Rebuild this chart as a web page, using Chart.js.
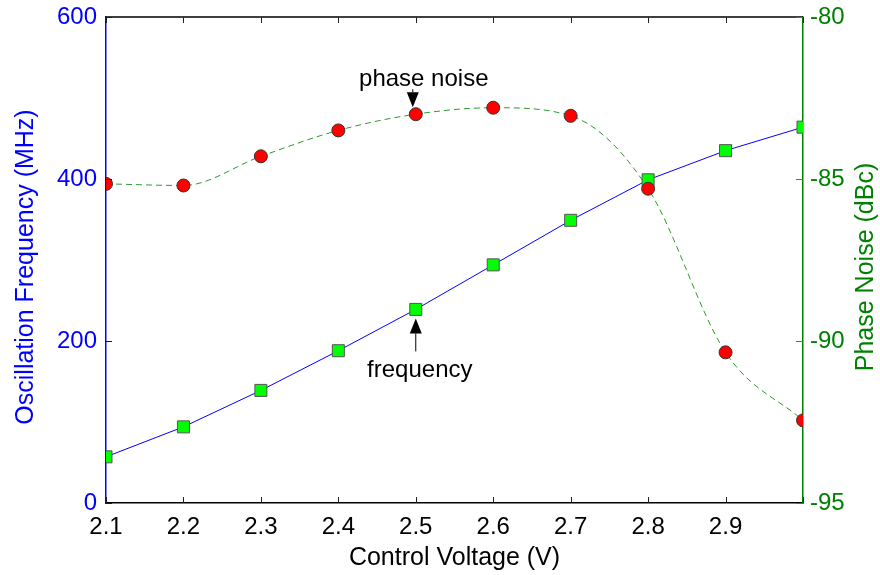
<!DOCTYPE html>
<html>
<head>
<meta charset="utf-8">
<script src="https://cdn.jsdelivr.net/npm/chart.js@4.4.0/dist/chart.umd.min.js"></script>
<style>
  html, body { margin: 0; padding: 0; background: #fff; }
  #wrap { width: 880px; height: 575px; }
</style>
</head>
<body>
<div id="wrap"><canvas id="vcoChart"></canvas></div>
<script>
// control voltage (V)
const voltage = [2.1, 2.2, 2.3, 2.4, 2.5, 2.6, 2.7, 2.8, 2.9, 3.0];
// oscillation frequency (MHz)
const frequency = [57, 94, 139, 188, 239, 294, 349, 399, 435, 464];
// phase noise (dBc)
const phaseNoise = [-85.15, -85.2, -84.3, -83.5, -83.0, -82.8, -83.05, -85.3, -90.35, -92.45];

const xTicks = [2.1, 2.2, 2.3, 2.4, 2.5, 2.6, 2.7, 2.8, 2.9, 3.0];
const xTickLabels = ["2.1", "2.2", "2.3", "2.4", "2.5", "2.6", "2.7", "2.8", "2.9", ""];
const freqTicks = [0, 200, 400, 600];
const noiseTicks = [-95, -90, -85, -80];

const FONT = "'Liberation Sans', Arial, Helvetica, sans-serif";
const BLUE = "#0000ff";
const GREEN = "#008000";

const freqPoints = voltage.map((v, i) => ({ x: v, y: frequency[i] }));
const noisePoints = voltage.map((v, i) => ({ x: v, y: phaseNoise[i] }));

function setTicks(values) {
    return function (scale) {
        scale.ticks = values.map(v => ({ value: v }));
    };
}

function fitWidth(w) {
    return function (scale) {
        scale.width = w;
        scale.paddingTop = 0;
        scale.paddingBottom = 0;
    };
}

// inward tick marks, top frame, arrows and axis titles
const decorPlugin = {
    id: "decor",
    afterDatasetsDraw(chart) {
        const ctx = chart.ctx;
        const area = chart.chartArea;
        const x = chart.scales.x;
        const y = chart.scales.y;
        const y2 = chart.scales.y2;

        ctx.save();
        // top frame
        ctx.strokeStyle = "#000";
        ctx.lineWidth = 1.5;
        ctx.beginPath();
        ctx.moveTo(area.left, area.top);
        ctx.lineTo(area.right, area.top);
        ctx.stroke();

        // x ticks (bottom and top)
        ctx.lineWidth = 1;
        ctx.strokeStyle = "#222";
        xTicks.forEach(v => {
            const px = Math.round(x.getPixelForValue(v)) + 0.5;
            ctx.beginPath();
            ctx.moveTo(px, area.bottom);
            ctx.lineTo(px, area.bottom - 6);
            ctx.moveTo(px, area.top);
            ctx.lineTo(px, area.top + 6);
            ctx.stroke();
        });
        // left ticks
        ctx.strokeStyle = BLUE;
        freqTicks.forEach(v => {
            const py = Math.round(y.getPixelForValue(v)) + 0.5;
            ctx.beginPath();
            ctx.moveTo(area.left, py);
            ctx.lineTo(area.left + 6, py);
            ctx.stroke();
        });
        // right ticks
        ctx.strokeStyle = "#2a7f7f";
        noiseTicks.forEach(v => {
            const py = Math.round(y2.getPixelForValue(v)) + 0.5;
            ctx.beginPath();
            ctx.moveTo(area.right, py);
            ctx.lineTo(area.right - 7, py);
            ctx.stroke();
        });

        // annotation arrows
        function arrow(px, tipY, dir, stem) {
            // dir = 1 points down, -1 points up
            const headLen = 15, headHalf = 6;
            ctx.fillStyle = "#000";
            ctx.strokeStyle = "#000";
            ctx.lineWidth = 1;
            ctx.beginPath();
            ctx.moveTo(px, tipY);
            ctx.lineTo(px - headHalf, tipY - dir * headLen);
            ctx.lineTo(px + headHalf, tipY - dir * headLen);
            ctx.closePath();
            ctx.fill();
            ctx.beginPath();
            ctx.moveTo(px, tipY - dir * headLen);
            ctx.lineTo(px, tipY - dir * (headLen + stem));
            ctx.stroke();
        }
        ctx.font = "24px " + FONT;
        ctx.textAlign = "center";
        ctx.textBaseline = "alphabetic";

        const nx = x.getPixelForValue(voltage[4]);
        const ny = y2.getPixelForValue(phaseNoise[4]);
        arrow(nx - 3, ny - 7, 1, 3);
        ctx.fillStyle = "#000";
        ctx.fillText("phase noise", nx + 8, ny - 28);

        const fx = x.getPixelForValue(voltage[4]);
        const fy = y.getPixelForValue(frequency[4]);
        arrow(fx, fy + 9, -1, 18);
        ctx.fillStyle = "#000";
        ctx.fillText("frequency", fx + 4, fy + 68);

        // axis titles
        ctx.font = "25px " + FONT;
        ctx.textBaseline = "middle";
        ctx.fillStyle = "#000";
        ctx.fillText("Control Voltage (V)", (area.left + area.right) / 2, chart.height - 17);

        const midY = (area.top + area.bottom) / 2 + 7;
        ctx.save();
        ctx.translate(26, midY);
        ctx.rotate(-Math.PI / 2);
        ctx.fillStyle = BLUE;
        ctx.fillText("Oscillation Frequency (MHz)", 0, 0);
        ctx.restore();

        ctx.save();
        ctx.translate(866, midY);
        ctx.rotate(-Math.PI / 2);
        ctx.fillStyle = GREEN;
        ctx.fillText("Phase Noise (dBc)", 0, 0);
        ctx.restore();

        ctx.restore();
    }
};

const ctx = document.getElementById("vcoChart").getContext("2d");
new Chart(ctx, {
    type: "line",
    data: {
        datasets: [
            {
                label: "phase noise",
                data: noisePoints,
                yAxisID: "y2",
                order: 0,
                borderColor: "#2e9a2e",
                borderWidth: 1,
                borderDash: [6, 4],
                cubicInterpolationMode: "monotone",
                pointStyle: "circle",
                pointRadius: 6.5,
                pointBackgroundColor: "#ff0000",
                pointBorderColor: "#333",
                pointBorderWidth: 1
            },
            {
                label: "frequency",
                data: freqPoints,
                yAxisID: "y",
                order: 1,
                borderColor: BLUE,
                borderWidth: 1,
                tension: 0,
                pointStyle: "rect",
                pointRadius: 8.5,
                pointBackgroundColor: "#00ff00",
                pointBorderColor: "#555",
                pointBorderWidth: 1
            }
        ]
    },
    options: {
        responsive: true,
        maintainAspectRatio: false,
        animation: false,
        layout: { padding: { top: 17, left: 0, right: 0, bottom: 0 } },
        plugins: {
            legend: { display: false },
            tooltip: { enabled: false }
        },
        scales: {
            x: {
                type: "linear",
                min: 2.1,
                max: 3.0,
                afterBuildTicks: setTicks(xTicks),
                afterFit: s => { s.height = 72; s.paddingLeft = 0; s.paddingRight = 0; },
                grid: { display: false, drawTicks: false },
                border: { display: true, color: "#000", width: 1.5 },
                ticks: {
                    padding: 10,
                    color: "#000",
                    font: { size: 24, family: FONT },
                    maxRotation: 0,
                    autoSkip: false,
                    callback: (v, i) => xTickLabels[i]
                }
            },
            y: {
                type: "linear",
                position: "left",
                min: 0,
                max: 600,
                afterBuildTicks: setTicks(freqTicks),
                afterFit: fitWidth(106),
                grid: { display: false, drawTicks: false },
                border: { display: true, color: BLUE, width: 1.5 },
                ticks: {
                    padding: 9,
                    color: BLUE,
                    font: { size: 24, family: FONT }
                }
            },
            y2: {
                type: "linear",
                position: "right",
                min: -95,
                max: -80,
                afterBuildTicks: setTicks(noiseTicks),
                afterFit: fitWidth(77),
                grid: { display: false, drawTicks: false },
                border: { display: true, color: GREEN, width: 1.5 },
                ticks: {
                    padding: 7,
                    color: GREEN,
                    font: { size: 24, family: FONT }
                }
            }
        }
    },
    plugins: [decorPlugin]
});
</script>
</body>
</html>
